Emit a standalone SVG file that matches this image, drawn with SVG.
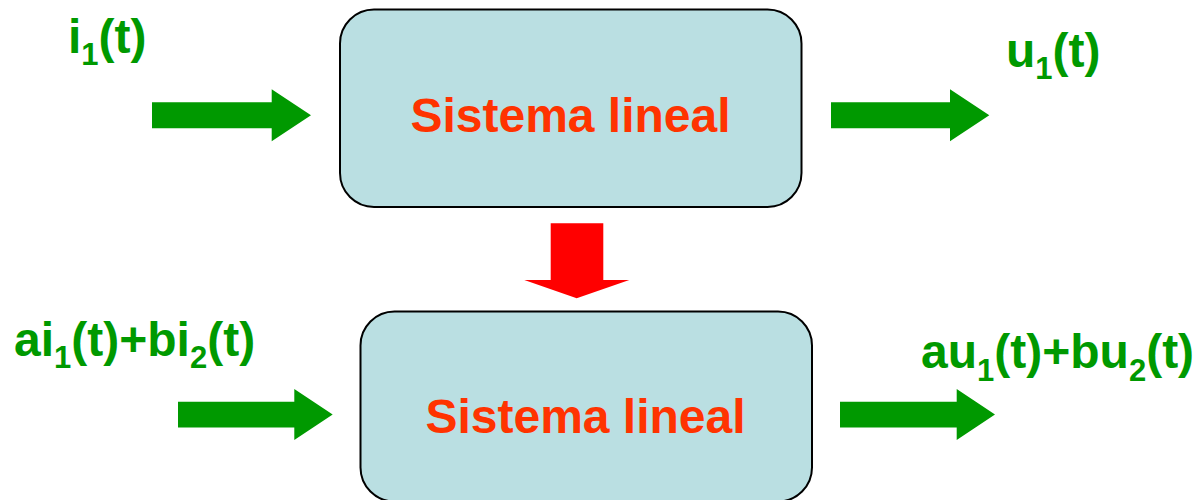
<svg xmlns="http://www.w3.org/2000/svg" width="1195" height="500" viewBox="0 0 1195 500">
<style>
.box{fill:#BADFE2;stroke:#000;stroke-width:2}
.sys{font-family:"Liberation Sans",Arial,sans-serif;font-weight:bold;font-size:48px;fill:#FF3300;text-anchor:middle}
.lbl{font-family:"Liberation Sans",Arial,sans-serif;font-weight:bold;font-size:48px;fill:#009900}
.sub{font-size:31px}
.garrow{fill:#009900}
.rarrow{fill:#FF0000}
</style>
<rect width="1195" height="500" fill="#fff"/>
<g id="node-top">
<rect class="box" x="340" y="9.5" width="461.5" height="197.5" rx="34" ry="34"/>
<text class="sys" x="570.5" y="132">Sistema lineal</text>
</g>
<g id="node-bottom">
<rect class="box" x="360.5" y="311.5" width="451.5" height="190" rx="34" ry="34"/>
<text class="sys" x="585.5" y="433">Sistema lineal</text>
</g>
<g id="label-i1">
<text class="lbl" x="68" y="52.5">i<tspan class="sub" dy="12.5">1</tspan><tspan dy="-12.5">(t)</tspan></text>
</g>
<g id="label-u1">
<text class="lbl" x="1006" y="66.5">u<tspan class="sub" dy="12.5">1</tspan><tspan dy="-12.5">(t)</tspan></text>
</g>
<g id="label-ai">
<text class="lbl" x="14" y="355.5">ai<tspan class="sub" dy="12.5">1</tspan><tspan dy="-12.5">(t)+bi</tspan><tspan class="sub" dy="12.5">2</tspan><tspan dy="-12.5">(t)</tspan></text>
</g>
<g id="label-au">
<text class="lbl" x="921" y="368">au<tspan class="sub" dy="12.5">1</tspan><tspan dy="-12.5">(t)+bu</tspan><tspan class="sub" dy="12.5">2</tspan><tspan dy="-12.5">(t)</tspan></text>
</g>
<g id="connectors">
<polygon class="garrow" points="152,102.3 271.7,102.3 271.7,89.3 311,115.3 271.7,141.3 271.7,128.3 152,128.3"/>
<polygon class="garrow" points="831,102.3 950,102.3 950,89.3 989.3,115.3 950,141.3 950,128.3 831,128.3"/>
<polygon class="garrow" points="178,401.7 294.3,401.7 294.3,389 332.7,414.5 294.3,440 294.3,427.5 178,427.5"/>
<polygon class="garrow" points="840,401.7 956.7,401.7 956.7,389 995,414.5 956.7,440 956.7,427.5 840,427.5"/>
<polygon class="rarrow" points="550.7,223.3 603.3,223.3 603.3,280 629.3,280 576.7,298.3 524.3,280 550.7,280"/>
</g>
</svg>
